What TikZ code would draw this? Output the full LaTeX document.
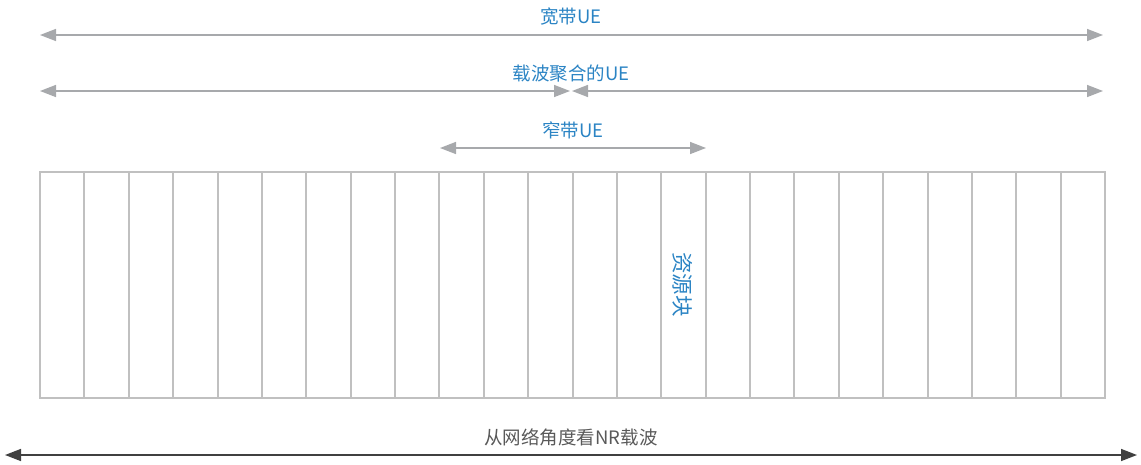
\documentclass[tikz,border=0pt]{standalone}
\usepackage{fontspec}
\setmainfont{Noto Sans CJK SC}
\usetikzlibrary{arrows.meta}
\definecolor{arrgray}{HTML}{A7A9AC}
\definecolor{gridgray}{HTML}{C0C0C0}
\definecolor{txtblue}{HTML}{2B84C4}
\definecolor{darkline}{HTML}{404040}
\definecolor{txtgray}{HTML}{595959}
\tikzset{
  tip/.tip={Triangle[length=16pt,width=12pt]},
  ue/.style={draw=arrgray, line width=1.5pt, tip-tip},
  lbl/.style={text=txtblue, font=\fontsize{18.5}{22}\selectfont, inner sep=0pt},
  cell/.style={draw=gridgray, line width=1.5pt},
}
\begin{document}
\begin{tikzpicture}[x=1pt,y=-1pt]
\useasboundingbox (0,0) rectangle (1141,464);
% coordinates
\coordinate (w1) at (40,35); \coordinate (w2) at (1103,35);
\coordinate (c1) at (40,91); \coordinate (cl) at (570,91);
\coordinate (cr) at (572,91); \coordinate (c2) at (1103,91);
\coordinate (n1) at (440,148); \coordinate (n2) at (706,148);
\coordinate (b1) at (5,455); \coordinate (b2) at (1137,455);
% arrows
\draw[ue] (w1) -- (w2);
\node[lbl] (lw) at (571,17) {宽带UE};
\draw[ue] (c1) -- (cl);
\draw[ue] (cr) -- (c2);
\node[lbl] (lc) at (571,74) {载波聚合的UE};
\draw[ue] (n1) -- (n2);
\node[lbl] (ln) at (573,130) {窄带UE};
% grid
\draw[cell] (40,172) rectangle (1105,398);
\foreach \i in {1,...,23} {
  \pgfmathsetmacro{\xx}{round(40+\i*44.375)}
  \draw[cell] (\xx,172) -- (\xx,398);
}
\node[lbl, rotate=-90, font=\fontsize{21.5}{24}\selectfont] (rb) at (683,284.5) {资源块};
% bottom
\draw[draw=darkline, line width=1.5pt, tip-tip] (b1) -- (b2);
\node[inner sep=0pt, text=txtgray, font=\fontsize{18.5}{22}\selectfont] (lb) at (571,437) {从网络角度看NR载波};
\end{tikzpicture}
\end{document}
